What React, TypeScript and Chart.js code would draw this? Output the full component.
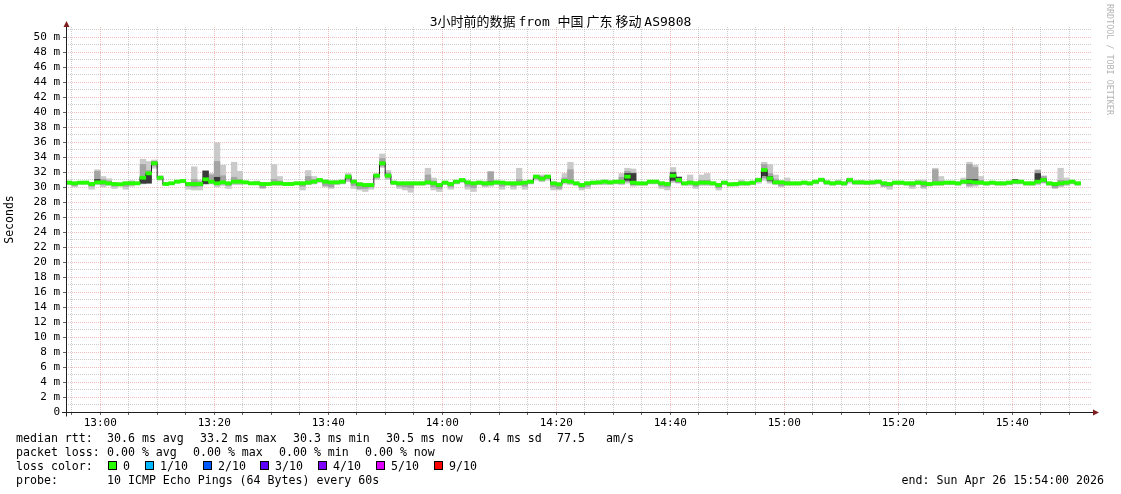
import React, { useEffect, useRef } from 'react';
import { Chart, registerables } from 'chart.js';

Chart.register(...registerables);

// Minutes since 12:54 (start of the 3h window); one sample per minute.
const START_MINUTE = 12 * 60 + 54;
const WINDOW_MINUTES = 180;

// median rtt (ms) per minute
const median = [
  30.58, 30.49, 30.58, 30.58, 30.40, 30.62, 30.62, 30.49, 30.40, 30.36,
  30.49, 30.49, 30.49, 31.24, 31.82, 33.16, 31.24, 30.40, 30.49, 30.71,
  30.80, 30.40, 30.40, 30.40, 31.02, 30.71, 30.49, 30.62, 30.49, 30.71,
  30.71, 30.62, 30.49, 30.49, 30.40, 30.40, 30.49, 30.49, 30.40, 30.40,
  30.49, 30.49, 30.58, 30.71, 30.93, 30.71, 30.62, 30.62, 30.71, 31.38,
  30.71, 30.36, 30.27, 30.27, 31.51, 33.16, 31.51, 30.58, 30.49, 30.49,
  30.49, 30.49, 30.49, 30.62, 30.49, 30.27, 30.58, 30.40, 30.71, 30.93,
  30.62, 30.49, 30.58, 30.49, 30.49, 30.62, 30.58, 30.49, 30.49, 30.49,
  30.58, 30.71, 31.38, 31.11, 31.38, 30.49, 30.36, 30.80, 30.71, 30.49,
  30.27, 30.49, 30.58, 30.62, 30.71, 30.62, 30.71, 30.71, 31.38, 30.58,
  30.49, 30.49, 30.71, 30.71, 30.49, 30.40, 31.51, 30.93, 30.49, 30.58,
  30.49, 30.58, 30.58, 30.49, 30.27, 30.58, 30.36, 30.40, 30.49, 30.49,
  30.58, 30.93, 32.27, 31.16, 30.62, 30.62, 30.49, 30.49, 30.49, 30.58,
  30.49, 30.71, 30.97, 30.62, 30.49, 30.58, 30.49, 30.93, 30.62, 30.62,
  30.58, 30.62, 30.71, 30.49, 30.40, 30.58, 30.58, 30.49, 30.49, 30.58,
  30.49, 30.40, 30.49, 30.49, 30.58, 30.58, 30.49, 30.71, 30.71, 30.62,
  30.58, 30.49, 30.58, 30.49, 30.49, 30.58, 30.71, 30.71, 30.49, 30.49,
  30.71, 30.93, 30.49, 30.40, 30.49, 30.58, 30.71, 30.49,
];

// fastest ping (outer smoke, low edge)
const pingMin = [
  30.3, 30.0, 30.35, 30.35, 29.7, 30.3, 30.0, 30.2, 29.8, 30.1,
  29.7, 30.1, 30.3, 30.4, 30.6, 32.5, 30.9, 30.2, 30.3, 30.5,
  30.55, 29.7, 29.6, 29.6, 30.4, 30.4, 30.0, 30.2, 29.8, 30.3,
  30.3, 30.4, 30.3, 30.3, 29.8, 30.2, 30.2, 30.2, 30.2, 30.2,
  30.3, 29.6, 30.3, 30.4, 30.6, 30.0, 29.8, 30.3, 30.4, 30.7,
  29.8, 29.6, 29.4, 29.7, 31.0, 32.6, 31.0, 30.3, 29.8, 29.6,
  29.3, 30.2, 30.2, 30.3, 29.6, 29.4, 30.3, 29.7, 30.4, 30.6,
  29.7, 29.4, 30.3, 30.0, 30.1, 30.3, 29.7, 30.2, 29.7, 30.2,
  29.7, 30.4, 30.9, 30.7, 30.9, 29.6, 29.6, 30.4, 30.3, 30.2,
  29.6, 29.8, 30.3, 30.3, 30.3, 30.3, 30.4, 30.3, 30.5, 30.1,
  30.2, 30.2, 30.4, 30.4, 29.8, 29.6, 30.6, 30.5, 30.2, 30.2,
  29.8, 30.2, 30.2, 30.2, 29.6, 30.3, 30.1, 30.1, 30.2, 30.2,
  30.3, 30.5, 30.9, 30.5, 30.3, 30.0, 30.2, 30.2, 30.2, 30.3,
  30.2, 30.4, 30.7, 30.3, 30.2, 30.3, 30.2, 30.5, 30.3, 30.3,
  30.3, 30.3, 30.4, 30.0, 29.7, 30.3, 30.3, 30.2, 29.8, 30.3,
  29.8, 30.1, 30.2, 30.2, 30.3, 30.3, 30.2, 30.4, 30.0, 30.1,
  30.3, 30.2, 30.3, 30.2, 30.2, 30.3, 30.4, 30.4, 30.2, 30.2,
  30.3, 30.5, 30.2, 29.8, 30.0, 30.2, 30.4, 30.2,
];

// slowest ping (outer smoke, high edge)
const pingMax = [
  30.8, 30.7, 30.75, 30.8, 30.6, 32.3, 31.4, 31.1, 30.6, 30.55,
  30.7, 30.85, 30.7, 33.7, 33.4, 33.6, 31.5, 30.6, 30.65, 30.9,
  31.0, 30.6, 32.7, 30.93, 32.2, 31.8, 35.9, 32.9, 30.7, 33.3,
  32.1, 30.8, 30.7, 30.8, 30.6, 30.6, 33.0, 31.4, 30.6, 30.6,
  30.7, 30.7, 32.2, 31.4, 31.1, 31.0, 30.8, 30.85, 30.95, 31.8,
  31.0, 30.6, 30.5, 30.5, 31.8, 34.4, 32.2, 30.8, 30.7, 30.7,
  30.7, 30.7, 30.7, 32.5, 31.2, 30.5, 30.8, 30.6, 30.9, 31.1,
  30.8, 30.7, 30.8, 30.8, 32.1, 30.85, 30.8, 30.7, 30.7, 32.5,
  30.8, 30.9, 31.6, 31.6, 31.6, 30.7, 30.6, 31.8, 33.3, 30.7,
  30.5, 30.7, 30.8, 30.85, 30.95, 30.85, 30.9, 31.8, 32.5, 32.4,
  30.7, 30.7, 30.9, 30.9, 30.7, 30.6, 32.6, 31.4, 30.7, 31.6,
  30.7, 31.6, 31.8, 30.7, 30.5, 30.8, 30.55, 30.6, 30.93, 30.7,
  30.8, 31.2, 33.3, 33.0, 31.6, 30.85, 31.2, 30.7, 30.7, 30.8,
  30.7, 30.9, 31.15, 30.85, 30.7, 30.93, 30.7, 31.2, 30.85, 30.93,
  30.8, 30.85, 30.93, 30.7, 30.6, 30.8, 30.8, 30.7, 30.7, 30.93,
  30.93, 30.6, 32.5, 31.4, 30.8, 30.8, 30.7, 31.2, 33.3, 32.9,
  31.4, 30.7, 30.8, 30.7, 30.7, 30.8, 31.0, 30.9, 30.7, 30.7,
  32.3, 31.5, 30.7, 30.6, 32.5, 31.2, 30.9, 30.7,
];

// 2nd fastest / 2nd slowest ping (middle smoke)
const ping2 = [
  30.4, 30.2, 30.45, 30.45, 30.1, 30.45, 30.3, 30.35, 30.1, 30.25,
  30.1, 30.3, 30.4, 30.5, 31.0, 32.8, 31.0, 30.3, 30.4, 30.6,
  30.65, 30.1, 30.0, 30.1, 30.4, 30.5, 30.3, 30.4, 30.2, 30.5,
  30.5, 30.5, 30.4, 30.4, 29.9, 30.3, 30.4, 30.4, 30.3, 30.3,
  30.4, 30.1, 30.4, 30.5, 30.7, 30.2, 30.0, 30.45, 30.5, 30.9,
  30.2, 29.8, 29.8, 30.0, 31.2, 32.8, 31.2, 30.4, 30.1, 30.0,
  29.9, 30.35, 30.35, 30.4, 30.0, 29.8, 30.4, 30.0, 30.5, 30.7,
  30.1, 29.9, 30.4, 30.2, 30.3, 30.4, 30.1, 30.35, 30.1, 30.3,
  30.1, 30.5, 31.1, 30.9, 31.1, 30.0, 29.8, 30.6, 30.5, 30.35,
  29.9, 30.1, 30.4, 30.45, 30.5, 30.45, 30.5, 30.5, 30.7, 30.3,
  30.35, 30.35, 30.5, 30.5, 30.1, 30.0, 30.8, 30.6, 30.35, 30.4,
  30.1, 30.4, 30.4, 30.35, 29.9, 30.4, 30.25, 30.25, 30.35, 30.35,
  30.4, 30.7, 31.2, 30.7, 30.45, 30.2, 30.35, 30.35, 30.35, 30.4,
  30.35, 30.5, 30.8, 30.45, 30.35, 30.4, 30.35, 30.7, 30.45, 30.45,
  30.4, 30.45, 30.5, 30.1, 30.1, 30.4, 30.4, 30.35, 30.1, 30.4,
  30.0, 30.25, 30.35, 30.35, 30.4, 30.4, 30.35, 30.5, 30.2, 30.3,
  30.4, 30.35, 30.4, 30.35, 30.35, 30.4, 30.5, 30.5, 30.35, 30.35,
  30.5, 30.6, 30.35, 29.9, 30.2, 30.35, 30.5, 30.35,
];

const ping9 = [
  30.7, 30.6, 30.7, 30.7, 30.5, 32.1, 31.0, 30.8, 30.5, 30.5,
  30.6, 30.7, 30.6, 33.0, 32.2, 33.4, 31.4, 30.5, 30.6, 30.8,
  30.9, 30.5, 31.0, 30.7, 32.2, 31.6, 33.4, 31.5, 30.6, 31.3,
  31.0, 30.75, 30.6, 30.7, 30.5, 30.5, 31.0, 30.8, 30.5, 30.5,
  30.6, 30.6, 31.4, 31.0, 31.0, 30.85, 30.7, 30.75, 30.85, 31.6,
  30.9, 30.5, 30.4, 30.4, 31.7, 33.8, 31.9, 30.7, 30.6, 30.6,
  30.6, 30.6, 30.6, 31.6, 30.8, 30.4, 30.7, 30.5, 30.8, 31.0,
  30.7, 30.6, 30.7, 30.6, 32.0, 30.75, 30.7, 30.6, 30.6, 31.0,
  30.7, 30.8, 31.5, 31.4, 31.5, 30.6, 30.5, 31.2, 32.3, 30.6,
  30.4, 30.6, 30.7, 30.75, 30.85, 30.75, 30.8, 31.3, 32.1, 31.9,
  30.6, 30.6, 30.8, 30.8, 30.6, 30.5, 32.0, 31.3, 30.6, 30.8,
  30.6, 30.9, 30.9, 30.6, 30.4, 30.7, 30.5, 30.5, 30.7, 30.6,
  30.7, 31.1, 33.0, 31.8, 31.0, 30.75, 30.7, 30.6, 30.6, 30.7,
  30.6, 30.8, 31.05, 30.75, 30.6, 30.7, 30.6, 31.1, 30.75, 30.75,
  30.7, 30.75, 30.8, 30.6, 30.5, 30.7, 30.7, 30.6, 30.6, 30.7,
  30.7, 30.5, 32.3, 30.8, 30.7, 30.7, 30.6, 30.9, 33.0, 32.6,
  30.9, 30.6, 30.7, 30.6, 30.6, 30.7, 30.9, 30.8, 30.6, 30.6,
  32.2, 31.4, 30.6, 30.5, 30.9, 30.8, 30.8, 30.6,
];

// 4th fastest / 4th slowest ping (dark core smoke)
const ping4 = [
  30.5, 30.4, 30.5, 30.5, 30.3, 30.5, 30.5, 30.45, 30.3, 30.3,
  30.4, 30.4, 30.45, 30.5, 30.5, 33.0, 31.1, 30.35, 30.45, 30.65,
  30.75, 30.3, 30.3, 30.3, 30.45, 30.6, 30.4, 30.5, 30.4, 30.6,
  30.6, 30.55, 30.45, 30.45, 30.3, 30.35, 30.45, 30.45, 30.35, 30.35,
  30.45, 30.4, 30.5, 30.6, 30.85, 30.6, 30.5, 30.55, 30.6, 31.2,
  30.6, 30.2, 30.1, 30.1, 31.4, 33.0, 31.4, 30.5, 30.4, 30.4,
  30.4, 30.45, 30.45, 30.5, 30.4, 30.1, 30.5, 30.3, 30.6, 30.85,
  30.5, 30.4, 30.5, 30.4, 30.4, 30.55, 30.5, 30.45, 30.4, 30.45,
  30.5, 30.6, 31.3, 31.0, 31.3, 30.4, 30.2, 30.7, 30.6, 30.45,
  30.2, 30.4, 30.5, 30.55, 30.6, 30.55, 30.6, 30.6, 30.9, 30.4,
  30.45, 30.45, 30.6, 30.6, 30.4, 30.3, 30.9, 30.7, 30.45, 30.5,
  30.4, 30.5, 30.5, 30.45, 30.2, 30.5, 30.3, 30.35, 30.45, 30.45,
  30.5, 30.85, 31.5, 30.9, 30.55, 30.55, 30.45, 30.45, 30.45, 30.5,
  30.45, 30.6, 30.9, 30.55, 30.45, 30.5, 30.45, 30.85, 30.55, 30.55,
  30.5, 30.55, 30.6, 30.3, 30.3, 30.5, 30.5, 30.45, 30.4, 30.5,
  30.3, 30.35, 30.45, 30.45, 30.5, 30.5, 30.45, 30.6, 30.5, 30.5,
  30.5, 30.45, 30.5, 30.45, 30.45, 30.5, 30.6, 30.6, 30.45, 30.45,
  30.6, 30.8, 30.45, 30.2, 30.4, 30.5, 30.6, 30.45,
];

const ping7 = [
  30.65, 30.55, 30.65, 30.65, 30.45, 31.0, 30.75, 30.6, 30.45, 30.4,
  30.55, 30.55, 30.55, 31.4, 31.7, 33.3, 31.35, 30.45, 30.55, 30.75,
  30.85, 30.45, 30.5, 30.5, 32.1, 30.8, 31.3, 30.75, 30.55, 30.8,
  30.8, 30.7, 30.55, 30.55, 30.45, 30.45, 30.6, 30.6, 30.45, 30.45,
  30.55, 30.55, 30.7, 30.8, 31.0, 30.8, 30.7, 30.7, 30.8, 31.5,
  30.8, 30.45, 30.35, 30.35, 31.6, 33.3, 31.6, 30.65, 30.55, 30.55,
  30.55, 30.55, 30.55, 30.75, 30.6, 30.35, 30.65, 30.45, 30.8, 31.0,
  30.7, 30.55, 30.65, 30.55, 30.7, 30.7, 30.65, 30.55, 30.55, 30.6,
  30.65, 30.8, 31.45, 31.2, 31.45, 30.55, 30.45, 30.9, 30.8, 30.55,
  30.35, 30.55, 30.65, 30.7, 30.8, 30.7, 30.8, 30.8, 31.8, 31.8,
  30.55, 30.55, 30.8, 30.8, 30.55, 30.45, 31.9, 31.3, 30.55, 30.65,
  30.55, 30.65, 30.65, 30.55, 30.35, 30.65, 30.4, 30.45, 30.55, 30.55,
  30.65, 31.0, 32.3, 31.4, 30.7, 30.7, 30.55, 30.55, 30.55, 30.65,
  30.55, 30.8, 31.05, 30.7, 30.55, 30.65, 30.55, 31.0, 30.7, 30.7,
  30.65, 30.7, 30.8, 30.55, 30.45, 30.65, 30.65, 30.55, 30.55, 30.65,
  30.55, 30.45, 30.6, 30.55, 30.65, 30.65, 30.55, 30.8, 31.0, 31.0,
  30.65, 30.55, 30.65, 30.55, 30.55, 30.65, 31.0, 30.8, 30.55, 30.55,
  31.8, 31.1, 30.55, 30.45, 30.6, 30.65, 30.8, 30.55,
];

// axis labels
const xTickLabels = ['13:00', '13:20', '13:40', '14:00', '14:20', '14:40', '15:00', '15:20', '15:40'];
const yTickLabels = [
  '0', '2 m', '4 m', '6 m', '8 m', '10 m', '12 m', '14 m', '16 m', '18 m', '20 m', '22 m', '24 m',
  '26 m', '28 m', '30 m', '32 m', '34 m', '36 m', '38 m', '40 m', '42 m', '44 m', '46 m', '48 m', '50 m',
];

// legend rows: [x, text]
const rttRow: [number, string][] = [
  [16, 'median rtt:'], [107, '30.6 ms avg'], [200, '33.2 ms max'], [293, '30.3 ms min'],
  [386, '30.5 ms now'], [479, '0.4 ms sd'], [557, '77.5'], [606, 'am/s'],
];
const lossRow: [number, string][] = [
  [16, 'packet loss:'], [107, '0.00 % avg'], [193, '0.00 % max'], [279, '0.00 % min'], [365, '0.00 % now'],
];
const lossColors = [
  { label: '0', color: '#26ff00', x: 108 },
  { label: '1/10', color: '#00b8ff', x: 145 },
  { label: '2/10', color: '#0059ff', x: 203 },
  { label: '3/10', color: '#5e00ff', x: 260 },
  { label: '4/10', color: '#7e00ff', x: 318 },
  { label: '5/10', color: '#dd00ff', x: 376 },
  { label: '9/10', color: '#ff0000', x: 434 },
];

const MONO = "'DejaVu Sans Mono', 'Noto Sans CJK SC', monospace";
const CJK = "'Noto Sans CJK SC', 'DejaVu Sans Mono', sans-serif";
const GRID_COLOR = 'rgba(143,143,143,0.45)';
const MGRID_COLOR = 'rgba(222,79,79,0.38)';
const AXIS_COLOR = '#1f1f1f';
const ARROW_COLOR = 'rgb(128,31,31)';
const BAND_HALF = 0.21;

function minuteToLabel(m: number): string {
  const t = START_MINUTE + m;
  return `${Math.floor(t / 60)}:${String(t % 60).padStart(2, '0')}`;
}

const axesPlugin = {
  id: 'rrdAxes',
  afterDatasetsDraw(chart: any) {
    const { ctx, chartArea } = chart;
    const { left, right, top, bottom } = chartArea;
    const ax = Math.round(left) + 0.5;
    const ay = Math.round(bottom) + 0.5;
    ctx.save();
    ctx.strokeStyle = AXIS_COLOR;
    ctx.lineWidth = 1;
    ctx.beginPath();
    ctx.moveTo(ax, ay + 4);
    ctx.lineTo(ax, top - 4);
    ctx.moveTo(left - 4, ay);
    ctx.lineTo(right + 2, ay);
    ctx.stroke();
    ctx.fillStyle = ARROW_COLOR;
    ctx.beginPath();
    ctx.moveTo(ax - 3, top);
    ctx.lineTo(ax + 3, top);
    ctx.lineTo(ax, top - 6);
    ctx.closePath();
    ctx.fill();
    ctx.beginPath();
    ctx.moveTo(right + 1, ay - 3);
    ctx.lineTo(right + 1, ay + 3);
    ctx.lineTo(right + 7, ay);
    ctx.closePath();
    ctx.fill();
    ctx.restore();
  },
};

export default function App() {
  const canvasRef = useRef<HTMLCanvasElement | null>(null);

  useEffect(() => {
    const canvas = canvasRef.current;
    if (!canvas) return;

    const band = (lo: number[], hi: number[]) =>
      lo.map((v, i) => ({ x: i + 0.5, y: [v, hi[i]] }));

    const majorX = new Set<number>();
    xTickLabels.forEach((lbl) => {
      for (let m = 0; m <= WINDOW_MINUTES; m++) if (minuteToLabel(m) === lbl) majorX.add(m);
    });
    const xGridTicks: number[] = [];
    for (let m = 1; m < WINDOW_MINUTES; m++) {
      if ((START_MINUTE + m) % 5 === 0) xGridTicks.push(m);
    }
    const yGridTicks: number[] = [];
    for (let v = 0; v <= 51; v++) yGridTicks.push(v);

    const medLine = median.map((v, i) => ({ x: i, y: v }));
    medLine.push({ x: median.length, y: median[median.length - 1] });

    const barCommon = {
      type: 'bar' as const,
      grouped: false,
      barPercentage: 1,
      categoryPercentage: 1,
      borderWidth: 0,
    };

    const chart = new Chart(canvas, {
      type: 'bar',
      data: {
        datasets: [
          { ...barCommon, data: band(pingMin, pingMax), backgroundColor: '#cacaca', order: 6 } as any,
          { ...barCommon, data: band(ping2, ping9), backgroundColor: '#a4a4a4', order: 5 } as any,
          { ...barCommon, data: band(ping4, ping7), backgroundColor: '#3a3a3a', order: 4 } as any,
          {
            type: 'line',
            data: medLine,
            borderColor: '#202020',
            borderWidth: 1,
            pointRadius: 0,
            stepped: 'before',
            fill: false,
            order: 3,
          } as any,
          {
            ...barCommon,
            data: median.map((v, i) => ({ x: i + 0.5, y: [v - BAND_HALF, v + BAND_HALF] })),
            backgroundColor: '#26ff00',
            order: 2,
          } as any,
        ],
      },
      options: {
        responsive: false,
        animation: false,
        events: [],
        layout: { padding: { top: 27, right: 29, bottom: 0, left: 0 } },
        plugins: { legend: { display: false }, tooltip: { enabled: false }, title: { display: false } },
        scales: {
          x: {
            type: 'linear',
            min: 0,
            max: WINDOW_MINUTES,
            offset: false,
            afterFit: (s: any) => { s.height = 82; },
            afterBuildTicks: (s: any) => { s.ticks = xGridTicks.map((v) => ({ value: v })); },
            border: { display: false, dash: [1, 1] },
            grid: {
              offset: false,
              color: (c: any) => (c.tick && majorX.has(c.tick.value) ? MGRID_COLOR : GRID_COLOR),
              lineWidth: 1,
              drawTicks: true,
              tickLength: 3,
              tickColor: '#666',
              tickBorderDash: [],
            },
            ticks: {
              autoSkip: false,
              maxRotation: 0,
              padding: 2,
              color: '#000',
              font: { family: MONO, size: 11 },
              callback: (v: any) => (majorX.has(Number(v)) ? minuteToLabel(Number(v)) : ''),
            },
          },
          y: {
            type: 'linear',
            min: 0,
            max: 385 / 7.5,
            afterFit: (s: any) => { s.width = 66; },
            afterBuildTicks: (s: any) => { s.ticks = yGridTicks.map((v) => ({ value: v })); },
            border: { display: false, dash: [1, 1] },
            grid: {
              color: (c: any) => (c.tick && c.tick.value % 2 === 0 ? MGRID_COLOR : GRID_COLOR),
              lineWidth: 1,
              drawTicks: true,
              tickLength: 3,
              tickColor: (c: any) => (c.tick && c.tick.value % 2 === 0 ? '#666' : 'rgba(0,0,0,0)'),
              tickBorderDash: [],
            },
            ticks: {
              autoSkip: false,
              padding: 3,
              color: '#000',
              font: { family: MONO, size: 11 },
              callback: (v: any) => {
                const n = Number(v);
                return n % 2 === 0 ? yTickLabels[n / 2] : '';
              },
            },
            title: {
              display: true,
              text: 'Seconds',
              color: '#000',
              font: { family: MONO, size: 11.5 },
              padding: { top: 3, bottom: 0 },
            },
          },
        },
      },
      plugins: [axesPlugin],
    } as any);

    return () => chart.destroy();
  }, []);

  const textStyle = (left: number, top: number): React.CSSProperties => ({
    position: 'absolute',
    left,
    top,
    height: 14,
    lineHeight: '14px',
    fontFamily: MONO,
    fontSize: '11.6px',
    whiteSpace: 'pre',
    color: '#000',
  });

  return (
    <div style={{ position: 'absolute', left: 0, top: 0, width: 1121, height: 494, background: '#fff', overflow: 'hidden' }}>
      <canvas ref={canvasRef} width={1121} height={494} style={{ position: 'absolute', left: 0, top: 0 }} />
      <div
        style={{
          position: 'absolute', left: 0, top: 13, width: 1121, height: 16, lineHeight: '16px',
          textAlign: 'center', fontFamily: MONO, fontSize: '13px', color: '#000', whiteSpace: 'pre',
        }}
      >
        <span>3</span>
        <span style={{ fontFamily: CJK }}>小时前的数据 </span>
        <span>from </span>
        <span style={{ fontFamily: CJK }}>中国 广东 移动 </span>
        <span>AS9808</span>
      </div>
      <div
        style={{
          position: 'absolute', left: 1105, top: 4, writingMode: 'vertical-rl', fontFamily: MONO,
          fontSize: '8.4px', color: '#b4b4b4', whiteSpace: 'pre', lineHeight: '9px',
        }}
      >
        RRDTOOL / TOBI OETIKER
      </div>
      {rttRow.map(([x, t]) => (
        <div key={'r' + x} style={textStyle(x, 431)}>{t}</div>
      ))}
      {lossRow.map(([x, t]) => (
        <div key={'l' + x} style={textStyle(x, 445)}>{t}</div>
      ))}
      <div style={textStyle(16, 459)}>loss color:</div>
      {lossColors.map((l) => (
        <React.Fragment key={l.label}>
          <div
            style={{
              position: 'absolute', left: l.x, top: 461, width: 7, height: 7,
              background: l.color, border: '1px solid #000',
            }}
          />
          <div style={textStyle(l.x + 15, 459)}>{l.label}</div>
        </React.Fragment>
      ))}
      <div style={textStyle(16, 473)}>probe:</div>
      <div style={textStyle(107, 473)}>10 ICMP Echo Pings (64 Bytes) every 60s</div>
      <div style={{ ...textStyle(0, 473), left: 'auto', right: 17 }}>end: Sun Apr 26 15:54:00 2026</div>
    </div>
  );
}
